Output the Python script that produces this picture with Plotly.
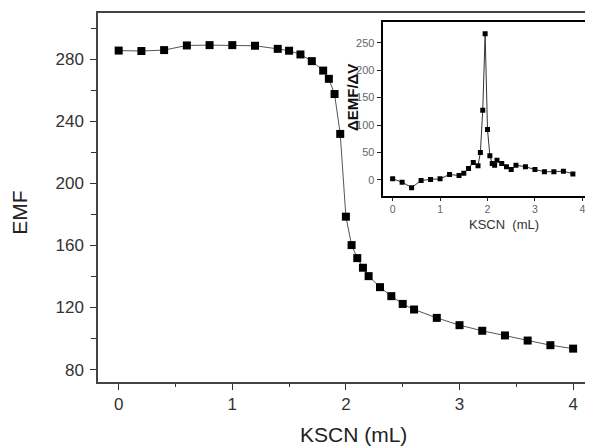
import plotly.graph_objects as go

# Main titration curve
kscn_ml = [0, 0.2, 0.4, 0.6, 0.8, 1.0, 1.2, 1.4, 1.5, 1.6, 1.7, 1.8, 1.85, 1.9, 1.95,
           2.0, 2.05, 2.1, 2.15, 2.2, 2.3, 2.4, 2.5, 2.6, 2.8, 3.0, 3.2, 3.4, 3.6, 3.8, 4.0]
emf = [285.5, 285.2, 285.8, 288.8, 289.0, 289.0, 288.6, 286.6, 285.4, 283.0, 278.7, 272.6,
       267.3, 257.5, 231.8, 178.5, 160.2, 151.8, 145.6, 140.2, 133.1, 127.3, 122.3, 118.7,
       113.3, 108.6, 105.0, 102.0, 98.7, 95.7, 93.5]

# Inset: first derivative
d_kscn_ml = [0, 0.2, 0.4, 0.6, 0.8, 1.0, 1.2, 1.4, 1.5, 1.6, 1.7, 1.8, 1.85, 1.9, 1.95,
             2.0, 2.05, 2.1, 2.15, 2.2, 2.3, 2.4, 2.5, 2.6, 2.8, 3.0, 3.2, 3.4, 3.6, 3.8]
d_emf = [2, -4, -14, -1, 1, 2, 10, 8, 12, 21, 32, 26, 50, 127, 266,
         92, 44, 30, 27, 36, 30, 24, 19, 27, 24, 19, 15, 15, 16, 11]

main_xticks = [0, 1, 2, 3, 4]
main_yticks = [80, 120, 160, 200, 240, 280]
inset_xticks = [0, 1, 2, 3, 4]
inset_yticks = [0, 50, 100, 150, 200, 250]

font_family = "Liberation Sans, Arial, sans-serif"

fig = go.Figure()
fig.add_trace(go.Scatter(
    x=kscn_ml, y=emf, mode="lines+markers",
    line=dict(color="#555555", width=1),
    marker=dict(symbol="square", size=8, color="black"),
    xaxis="x", yaxis="y", showlegend=False))
fig.add_trace(go.Scatter(
    x=d_kscn_ml, y=d_emf, mode="lines+markers",
    line=dict(color="#333333", width=1),
    marker=dict(symbol="square", size=5, color="black"),
    xaxis="x2", yaxis="y2", showlegend=False))

annotations = [
    dict(text="KSCN (mL)", xref="paper", yref="paper", x=0.517, y=-0.142,
         xanchor="center", yanchor="middle", showarrow=False,
         font=dict(size=21, color="#222222")),
    dict(text="EMF", xref="paper", yref="paper", x=-0.158, y=0.458, textangle=-90,
         xanchor="center", yanchor="middle", showarrow=False,
         font=dict(size=21, color="#222222")),
    dict(text="KSCN  (mL)", xref="paper", yref="paper", x=0.820, y=0.428,
         xanchor="center", yanchor="middle", showarrow=False,
         font=dict(size=13, color="#333333")),
    dict(text="<b>ΔEMF/ΔV</b>", xref="paper", yref="paper", x=0.513, y=0.772, textangle=-90,
         xanchor="center", yanchor="middle", showarrow=False,
         font=dict(size=15, color="#111111")),
]

# The page body adds an 8px offset, so the figure is sized to 585x438
fig.update_layout(
    width=585, height=438,
    margin=dict(l=90, r=0, t=5, b=64),
    paper_bgcolor="white", plot_bgcolor="white",
    font=dict(family=font_family, color="#222222"),
    annotations=annotations,
    xaxis=dict(
        domain=[0, 1], range=[-0.182, 4.175], automargin=False,
        tickvals=main_xticks, ticktext=[str(v) for v in main_xticks],
        ticks="outside", ticklen=6, tickwidth=1.2, tickcolor="#333333",
        minor=dict(dtick=0.5, ticks="outside", ticklen=3, tickcolor="#333333"),
        showline=True, linecolor="#444444", linewidth=1.5, mirror=True,
        showgrid=False, zeroline=False,
        tickfont=dict(size=17, color="#333333"),
    ),
    yaxis=dict(
        domain=[0, 1], range=[72, 309.7], automargin=False,
        tickvals=main_yticks, ticktext=[str(v) for v in main_yticks],
        ticks="outside", ticklen=6, tickwidth=1.2, tickcolor="#333333",
        minor=dict(dtick=20, tick0=80, ticks="outside", ticklen=5, tickcolor="#333333"),
        showline=True, linecolor="#444444", linewidth=1.5, mirror=False,
        showgrid=False, zeroline=False, ticklabelstandoff=3,
        tickfont=dict(size=17, color="#333333"),
    ),
    xaxis2=dict(
        domain=[0.575, 0.986], anchor="y2", range=[-0.211, 4.078], automargin=False,
        tickvals=inset_xticks, ticktext=[str(v) for v in inset_xticks],
        ticks="outside", ticklen=3, tickcolor="#222222",
        showline=True, linecolor="black", linewidth=2, mirror=True,
        showgrid=False, zeroline=False,
        tickfont=dict(size=10.5, color="#666666"),
    ),
    yaxis2=dict(
        domain=[0.505, 0.975], anchor="x2", range=[-28.6, 287.2], automargin=False,
        tickvals=inset_yticks, ticktext=[str(v) for v in inset_yticks],
        ticks="outside", ticklen=4, tickcolor="#222222",
        showline=True, linecolor="black", linewidth=2, mirror=True,
        showgrid=False, zeroline=False,
        tickfont=dict(size=11, color="#666666"),
    ),
)

fig.write_html("out.html")
